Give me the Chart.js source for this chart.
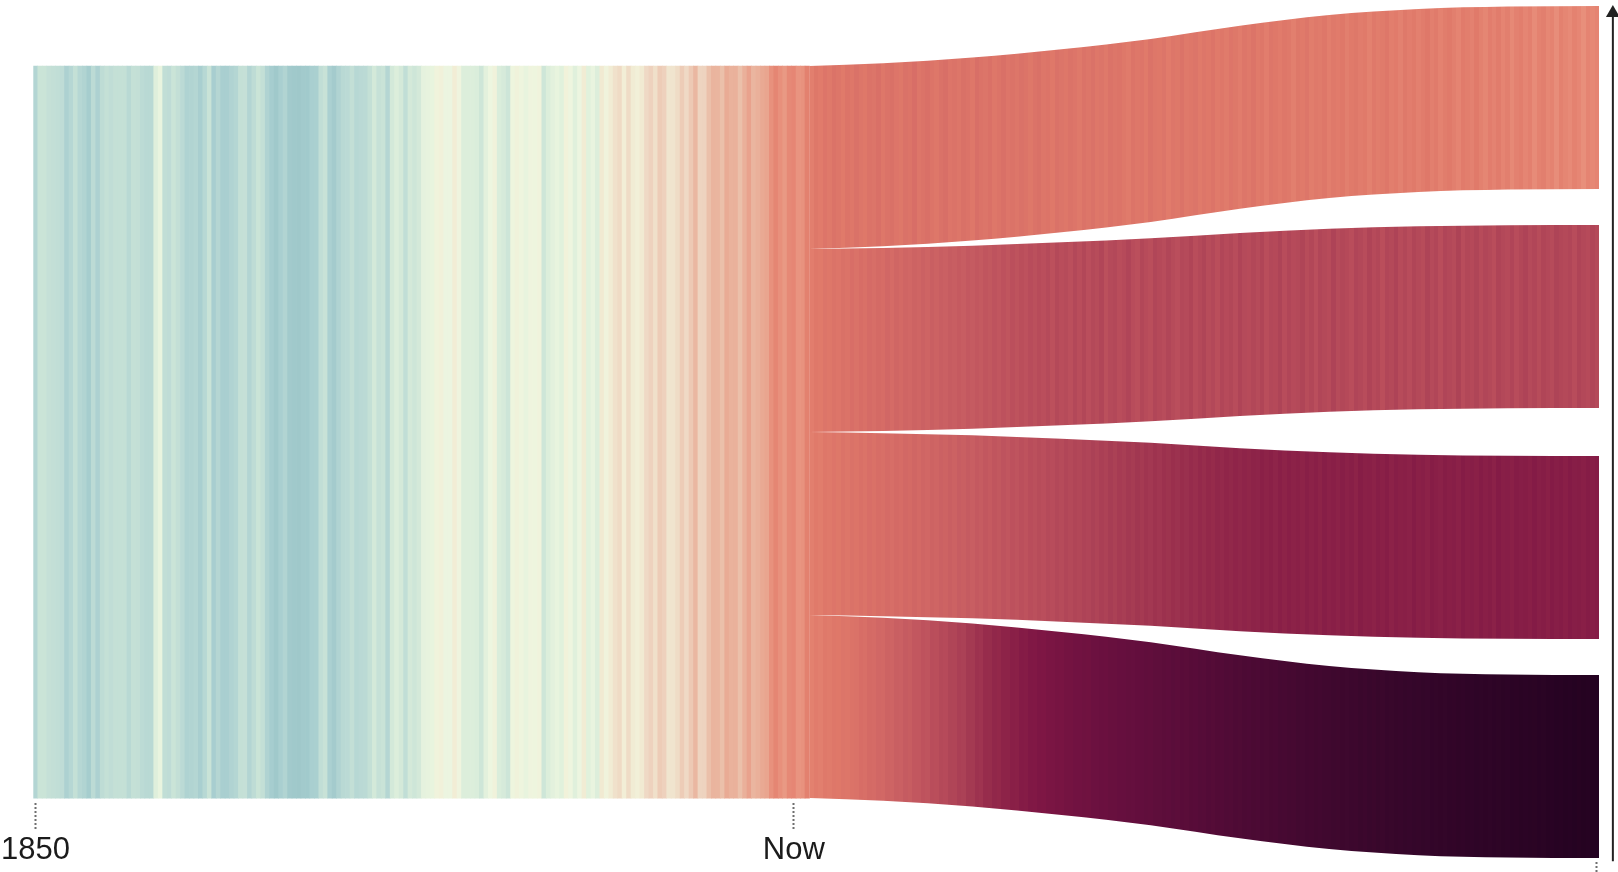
<!DOCTYPE html>
<html lang="en">
<head>
<meta charset="utf-8">
<title>Warming stripes and future pathways</title>
<script src="https://cdn.jsdelivr.net/npm/chart.js@4.4.1/dist/chart.umd.min.js"></script>
<style>
  html, body { margin: 0; padding: 0; background: #ffffff; overflow: hidden; }
  #box { width: 1618px; height: 872px; }
</style>
</head>
<body>
<div id="box"><canvas id="chart" width="1618" height="872"></canvas></div>
<script>
// ---------------- data ----------------
const firstYear = 1850;          // first historical stripe
const futureFirstYear = 2024;    // first stripe of the four pathways
const tickYears = [1850, 2020];
const tickLabels = ['1850', 'Now'];
const endTickYears = [2200];

// annual temperature anomaly (°C, vs 1961-1990), 1850-2023
const historical = [
  -0.42,-0.23,-0.23,-0.27,-0.29,-0.30,-0.32,-0.47,-0.39,-0.28,
  -0.39,-0.43,-0.54,-0.34,-0.47,-0.33,-0.28,-0.31,-0.28,-0.28,
  -0.28,-0.37,-0.28,-0.29,-0.34,-0.37,-0.37,-0.09,-0.01,-0.30,
  -0.32,-0.23,-0.29,-0.35,-0.45,-0.43,-0.41,-0.50,-0.38,-0.24,
  -0.51,-0.40,-0.50,-0.50,-0.44,-0.41,-0.28,-0.27,-0.42,-0.33,
  -0.23,-0.29,-0.44,-0.53,-0.60,-0.50,-0.43,-0.58,-0.60,-0.62,
  -0.58,-0.59,-0.50,-0.49,-0.30,-0.25,-0.48,-0.56,-0.44,-0.37,
  -0.35,-0.29,-0.38,-0.36,-0.35,-0.28,-0.17,-0.26,-0.24,-0.40,
  -0.17,-0.11,-0.16,-0.30,-0.16,-0.20,-0.16,-0.04,-0.03,-0.02,
   0.07, 0.10, 0.01, 0.01, 0.15, 0.05,-0.11,-0.11,-0.11,-0.12,
  -0.20,-0.06, 0.02, 0.08,-0.12,-0.15,-0.21, 0.04, 0.08, 0.04,
  -0.02, 0.05, 0.04, 0.07,-0.20,-0.11,-0.06,-0.02,-0.07, 0.09,
   0.03,-0.08, 0.01, 0.16,-0.07,-0.01,-0.10, 0.18, 0.07, 0.16,
   0.26, 0.32, 0.14, 0.31, 0.16, 0.12, 0.18, 0.33, 0.40, 0.27,
   0.45, 0.41, 0.22, 0.23, 0.31, 0.45, 0.33, 0.47, 0.61, 0.38,
   0.39, 0.54, 0.63, 0.62, 0.54, 0.69, 0.64, 0.65, 0.54, 0.66,
   0.76, 0.62, 0.66, 0.71, 0.74, 0.90, 1.02, 0.91, 0.83, 0.98,
   1.01, 0.87, 0.89, 1.10
];

// four future pathways, 2024-2200 (top band = lowest warming)
const pathway1 = [
  1.12,1.25,1.18,1.30,1.22,1.35,1.28,1.20,1.33,1.26,
  1.38,1.29,1.24,1.36,1.31,1.42,1.27,1.34,1.40,1.30,
  1.25,1.37,1.33,1.45,1.28,1.35,1.41,1.32,1.26,1.38,
  1.44,1.30,1.36,1.29,1.40,1.34,1.27,1.43,1.35,1.31,
  1.39,1.26,1.33,1.41,1.30,1.36,1.28,1.38,1.32,1.25,
  1.35,1.40,1.29,1.33,1.24,1.37,1.31,1.27,1.36,1.30,
  1.22,1.34,1.29,1.38,1.26,1.31,1.23,1.35,1.28,1.32,
  1.25,1.19,1.33,1.27,1.30,1.21,1.36,1.26,1.24,1.31,
  1.18,1.29,1.25,1.34,1.22,1.27,1.31,1.20,1.28,1.24,
  1.33,1.21,1.26,1.19,1.30,1.25,1.17,1.28,1.23,1.32,
  1.20,1.26,1.15,1.29,1.24,1.18,1.27,1.22,1.13,1.25,
  1.21,1.28,1.16,1.23,1.19,1.26,1.14,1.22,1.18,1.24,
  1.12,1.20,1.25,1.17,1.21,1.10,1.23,1.16,1.19,1.26,
  1.14,1.18,1.09,1.22,1.15,1.20,1.11,1.17,1.24,1.13,
  1.19,1.08,1.16,1.21,1.12,1.05,1.18,1.14,1.09,1.20,
  1.10,1.02,1.15,1.07,1.17,1.04,1.12,0.98,1.09,1.14,
  1.03,1.11,0.96,1.08,1.13,1.00,1.06,0.94,1.10,1.02,
  0.97,1.08,1.01,0.92,1.05,0.99,1.04
];
const pathway2 = [
  1.15,1.24,1.20,1.31,1.27,1.36,1.30,1.40,1.34,1.45,
  1.38,1.48,1.42,1.52,1.46,1.55,1.50,1.60,1.53,1.63,
  1.57,1.66,1.60,1.70,1.64,1.74,1.68,1.78,1.71,1.81,
  1.75,1.85,1.79,1.88,1.82,1.92,1.86,1.95,1.89,1.99,
  1.93,2.02,1.96,2.06,1.99,2.10,2.03,2.13,2.06,2.16,
  2.09,2.19,2.12,2.22,2.08,2.25,2.14,2.20,2.11,2.26,
  2.15,2.28,2.12,2.24,2.18,2.30,2.09,2.22,2.27,2.14,
  2.21,2.32,2.17,2.10,2.29,2.19,2.13,2.31,2.23,2.16,
  2.30,2.20,2.12,2.27,2.22,2.33,2.15,2.24,2.34,2.18,
  2.26,2.13,2.31,2.21,2.28,2.17,2.35,2.22,2.19,2.29,
  2.20,2.33,2.14,2.27,2.23,2.36,2.16,2.30,2.21,2.25,
  2.34,2.18,2.28,2.12,2.31,2.24,2.19,2.37,2.20,2.29,
  2.23,2.15,2.32,2.26,2.17,2.35,2.21,2.28,2.13,2.30,
  2.24,2.37,2.19,2.29,2.16,2.33,2.25,2.18,2.36,2.22,
  2.30,2.14,2.32,2.26,2.20,2.38,2.17,2.28,2.23,2.34,
  2.19,2.31,2.25,2.15,2.35,2.27,2.21,2.32,2.16,2.29,
  2.37,2.22,2.30,2.18,2.33,2.26,2.20,2.36,2.28,2.24,
  2.31,2.17,2.35,2.27,2.21,2.33,2.25
];
const pathway3 = [
  1.13,1.20,1.16,1.26,1.22,1.30,1.25,1.34,1.29,1.37,
  1.33,1.41,1.36,1.45,1.39,1.48,1.43,1.52,1.46,1.55,
  1.50,1.59,1.54,1.63,1.57,1.66,1.61,1.70,1.64,1.74,
  1.69,1.78,1.72,1.82,1.77,1.86,1.80,1.90,1.85,1.94,
  1.88,1.98,1.93,2.02,1.96,2.06,2.01,2.10,2.04,2.14,
  2.09,2.18,2.12,2.22,2.17,2.26,2.20,2.30,2.24,2.33,
  2.28,2.37,2.32,2.41,2.35,2.44,2.39,2.48,2.42,2.50,
  2.46,2.54,2.49,2.57,2.52,2.60,2.55,2.63,2.58,2.66,
  2.62,2.69,2.65,2.72,2.68,2.75,2.71,2.78,2.73,2.80,
  2.76,2.83,2.78,2.86,2.81,2.88,2.83,2.90,2.85,2.92,
  2.89,2.97,2.91,2.98,2.90,2.99,2.92,3.00,2.93,2.98,
  2.91,3.01,2.94,2.99,2.92,3.02,2.95,3.00,2.93,3.03,
  2.96,3.01,2.92,3.04,2.97,2.99,2.94,3.03,2.98,3.05,
  2.93,3.02,2.97,3.00,2.95,3.06,2.98,3.01,2.94,3.04,
  2.99,2.96,3.05,3.00,3.02,2.95,3.07,2.99,3.03,2.97,
  3.06,3.00,3.04,2.96,3.08,3.01,3.03,2.98,3.07,3.02,
  3.05,2.99,3.09,3.01,3.04,2.97,3.08,3.03,3.06,3.00,
  3.09,3.02,3.05,2.99,3.07,3.03,3.06
];
const pathway4 = [
  1.10,1.17,1.13,1.22,1.19,1.27,1.24,1.31,1.28,1.36,
  1.38,1.47,1.43,1.54,1.52,1.61,1.58,1.69,1.68,1.78,
  1.76,1.86,1.83,1.95,1.94,2.04,2.01,2.14,2.13,2.24,
  2.21,2.34,2.33,2.44,2.41,2.54,2.53,2.64,2.61,2.74,
  2.73,2.83,2.80,2.92,2.91,3.00,2.97,3.08,3.07,3.16,
  3.15,3.22,3.20,3.29,3.28,3.35,3.33,3.41,3.41,3.47,
  3.47,3.52,3.50,3.57,3.57,3.62,3.60,3.66,3.66,3.70,
  3.70,3.74,3.72,3.78,3.79,3.83,3.81,3.88,3.88,3.93,
  3.91,3.97,3.94,4.01,3.98,4.05,4.02,4.09,4.06,4.13,
  4.10,4.17,4.14,4.21,4.18,4.25,4.22,4.30,4.27,4.34,
  4.31,4.39,4.35,4.43,4.40,4.47,4.44,4.52,4.48,4.56,
  4.53,4.60,4.57,4.64,4.61,4.68,4.65,4.72,4.69,4.77,
  4.73,4.80,4.76,4.84,4.79,4.87,4.83,4.90,4.86,4.94,
  4.90,4.97,4.93,5.01,4.96,5.04,5.00,5.07,5.03,5.11,
  5.07,5.14,5.10,5.18,5.13,5.21,5.17,5.24,5.20,5.28,
  5.24,5.31,5.27,5.35,5.30,5.38,5.34,5.41,5.37,5.45,
  5.41,5.48,5.44,5.52,5.47,5.55,5.51,5.58,5.54,5.62,
  5.58,5.66,5.61,5.69,5.65,5.72,5.76
];

// fan-out of the four pathway bands: upper edge of each band (band units) at these years
const fanYears = [2023.5, 2040, 2060, 2080, 2100, 2120, 2140, 2160, 2180, 2200.5];
const fanTop1 = [0, -0.015, -0.046, -0.092, -0.148, -0.220, -0.279, -0.312, -0.325, -0.328];
const fanTop2 = [1, 0.994, 0.982, 0.963, 0.941, 0.912, 0.889, 0.876, 0.870, 0.869];
const fanTop3 = [2, 2.006, 2.018, 2.037, 2.059, 2.088, 2.111, 2.124, 2.130, 2.131];
const fanTop4 = [3, 3.015, 3.046, 3.092, 3.148, 3.220, 3.279, 3.312, 3.325, 3.328];

// ---------------- styling ----------------
const colourStops = [
  [-0.65, '#9cc6c9'], [-0.50, '#a9cfd0'], [-0.35, '#bbdad5'], [-0.20, '#cee6d8'],
  [-0.08, '#e0f0dc'], [0.02, '#edf6e0'], [0.12, '#f2f0d8'], [0.25, '#f0e2cc'],
  [0.40, '#eed2be'], [0.55, '#ebbfa9'], [0.70, '#e9aa94'], [0.85, '#e99682'],
  [1.00, '#e68774'], [1.20, '#e07a6a'], [1.50, '#d66c66'], [1.80, '#c85e62'],
  [2.10, '#bb4f5c'], [2.40, '#ac4256'], [2.80, '#93284a'], [3.20, '#7e1644'],
  [3.70, '#660f3e'], [4.30, '#4c0a34'], [5.00, '#35062a'], [5.80, '#220220']
];
function hexRgb(h) { return [1, 3, 5].map(i => parseInt(h.substr(i, 2), 16)); }
function colourFor(v) {
  if (v <= colourStops[0][0]) return colourStops[0][1];
  for (let i = 1; i < colourStops.length; i++) {
    if (v <= colourStops[i][0]) {
      const [v0, c0] = colourStops[i - 1], [v1, c1] = colourStops[i];
      const t = (v - v0) / (v1 - v0), a = hexRgb(c0), b = hexRgb(c1);
      return 'rgb(' + a.map((x, k) => Math.round(x + (b[k] - x) * t)).join(',') + ')';
    }
  }
  return colourStops[colourStops.length - 1][1];
}

const BAND = 1;               // thickness of one pathway band (y units)
const HIST_RANGE = [0, 4];    // historical stripes cover all four bands
const TEXT = '#1b1b1b';
const TICK_COLOUR = '#6f6f6f';

function stripeFill(values, chart) {
  const xs = chart.scales.x;
  if (!chart.chartArea || !xs) return colourFor(values[0]);
  const x0 = xs.getPixelForValue(futureFirstYear - 0.5);
  const x1 = xs.getPixelForValue(futureFirstYear + values.length - 0.5);
  const g = chart.ctx.createLinearGradient(x0, 0, x1, 0);
  const clamp = t => Math.max(0, Math.min(1, t));
  values.forEach((v, i) => {
    const c = colourFor(v);
    const a = (xs.getPixelForValue(futureFirstYear + i - 0.5) - x0) / (x1 - x0);
    const b = (xs.getPixelForValue(futureFirstYear + i + 0.5) - x0) / (x1 - x0);
    g.addColorStop(clamp(a), c);
    g.addColorStop(clamp(b), c);
  });
  return g;
}

const datasets = [];
// arrow on the right (drawn on top)
datasets.push({
  type: 'line',
  data: [{ x: 2203.6, y: 4.345 }, { x: 2203.6, y: -0.289 }],
  borderColor: '#222222', borderWidth: 2,
  pointRadius: [0, 8], pointHoverRadius: 0, pointStyle: 'triangle',
  pointBackgroundColor: '#222222', pointBorderWidth: 0,
  fill: false, clip: false
});
// the four future bands
[[fanTop1, pathway1], [fanTop2, pathway2], [fanTop3, pathway3], [fanTop4, pathway4]].forEach(([tops, vals]) => {
  datasets.push({
    type: 'line',
    data: fanYears.map((x, i) => ({ x, y: tops[i] })),
    borderColor: 'rgba(0,0,0,0)', borderWidth: 0, pointRadius: 0,
    cubicInterpolationMode: 'monotone', fill: false
  });
  datasets.push({
    type: 'line',
    data: fanYears.map((x, i) => ({ x, y: tops[i] + BAND })),
    borderColor: 'rgba(0,0,0,0)', borderWidth: 0, pointRadius: 0,
    cubicInterpolationMode: 'monotone', fill: '-1',
    backgroundColor: ctx => stripeFill(vals, ctx.chart)
  });
});
// historical stripes
datasets.push({
  type: 'bar',
  data: historical.map((v, i) => ({ x: firstYear + i, y: HIST_RANGE })),
  backgroundColor: historical.map(colourFor),
  borderWidth: 0, barPercentage: 1, categoryPercentage: 1
});

const xRange = { min: 1849.5, max: 2204.75 };
const tickGrid = {
  display: true, drawOnChartArea: false, drawTicks: true,
  tickLength: 28, tickWidth: 2, tickColor: TICK_COLOUR, tickBorderDash: [2, 2]
};

new Chart(document.getElementById('chart'), {
  type: 'line',
  data: { datasets },
  options: {
    responsive: false,
    animation: false,
    events: [],
    layout: { autoPadding: false, padding: { left: 32, right: 0, top: 0, bottom: 0 } },
    plugins: { legend: { display: false }, tooltip: { enabled: false } },
    scales: {
      x: {
        type: 'linear', ...xRange, offset: false,
        position: { y: 4.027 },
        afterBuildTicks: axis => { axis.ticks = tickYears.map(v => ({ value: v })); },
        ticks: {
          autoSkip: false, maxRotation: 0, padding: 1, color: TEXT,
          font: { family: "'Liberation Sans', Arial, sans-serif", size: 31 },
          callback: v => tickLabels[tickYears.indexOf(v)]
        },
        grid: { ...tickGrid, offset: false },
        border: { display: false }
      },
      x2: {
        type: 'linear', axis: 'x', ...xRange, offset: false,
        position: { y: 4.35 },
        afterBuildTicks: axis => { axis.ticks = endTickYears.map(v => ({ value: v })); },
        ticks: { display: false },
        grid: { ...tickGrid, offset: false },
        border: { display: false }
      },
      y: {
        type: 'linear', reverse: true, min: -0.3607, max: 4.404, display: false
      }
    }
  }
});
</script>
</body>
</html>
